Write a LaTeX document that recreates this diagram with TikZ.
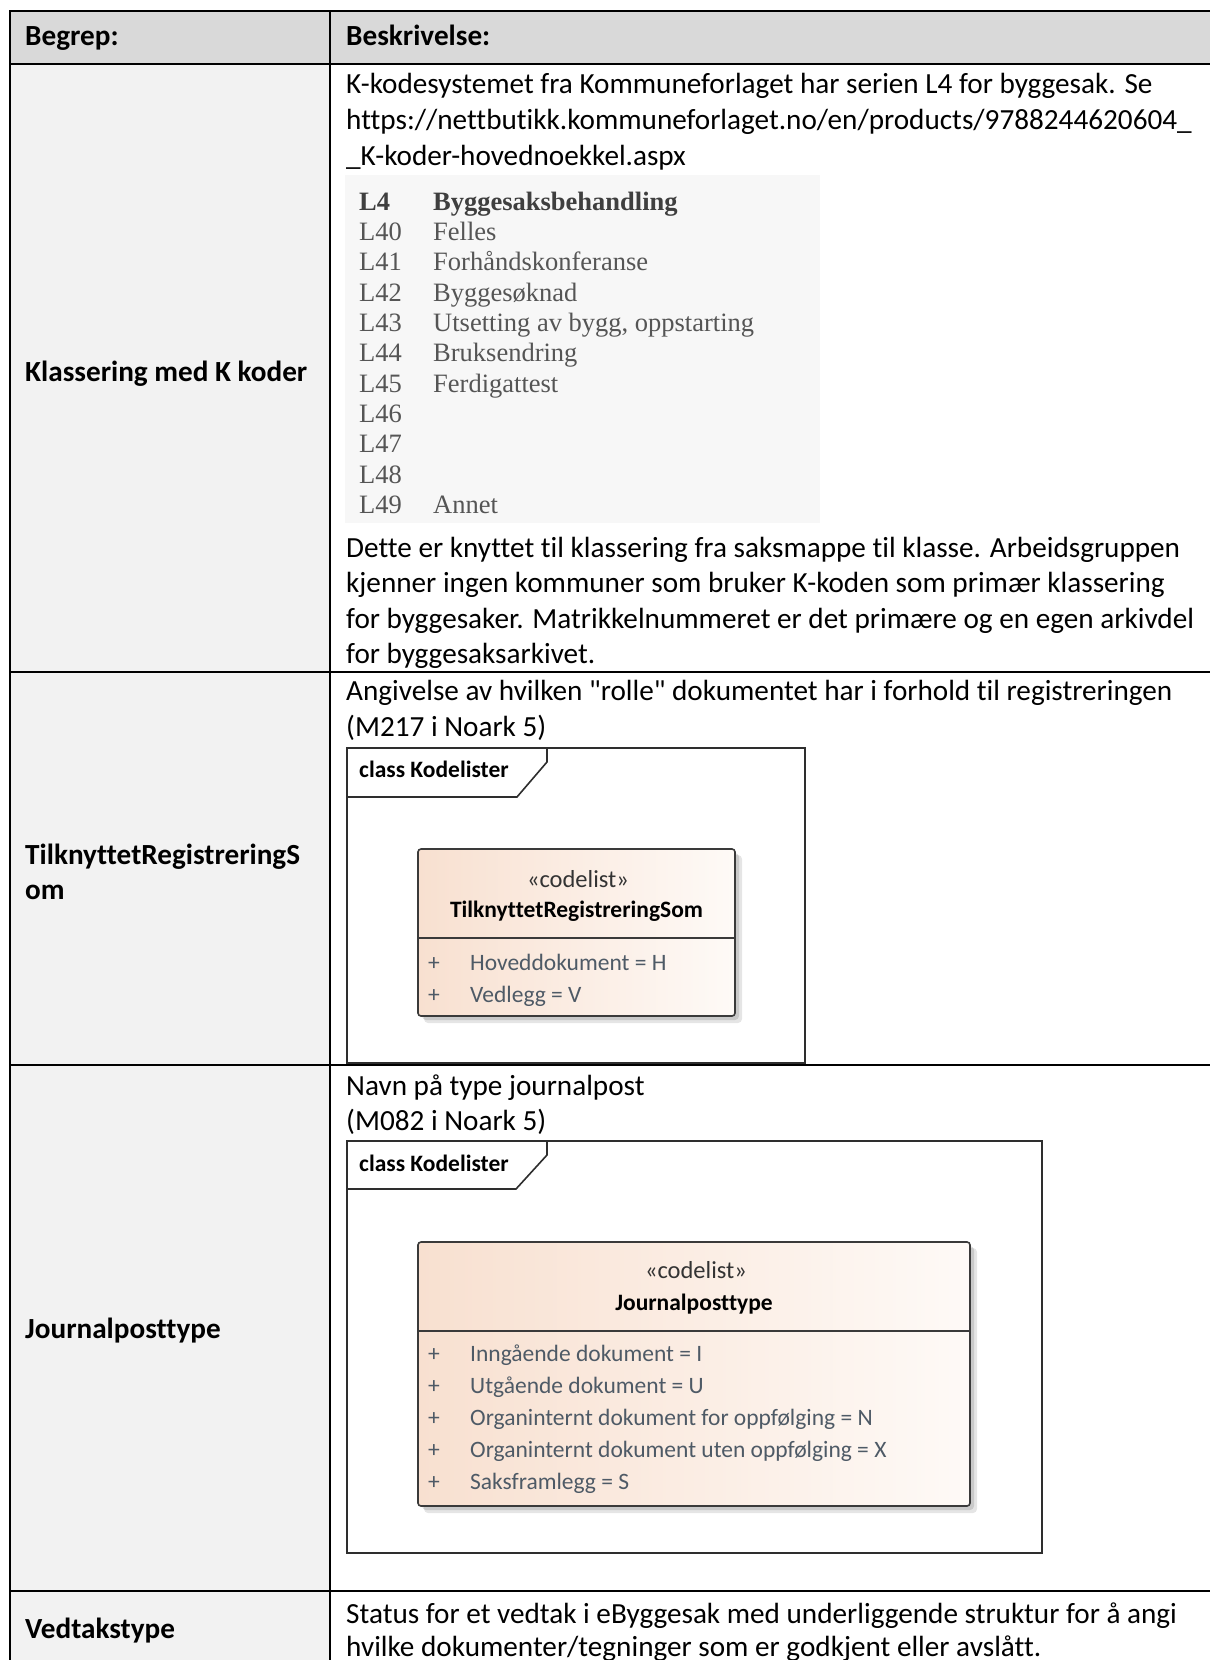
\documentclass[tikz,border=0pt]{standalone}
\usepackage{fontspec}
\setmainfont{Carlito}[Ligatures={TeXOff,CommonOff}]
\newfontfamily\kserif{Liberation Serif}[Ligatures={TeXOff,CommonOff}]
\definecolor{hdr}{HTML}{D9D9D9}
\definecolor{lcol}{HTML}{F2F2F2}
\definecolor{imgbg}{HTML}{F7F7F7}
\definecolor{kgray}{HTML}{555555}
\definecolor{kdark}{HTML}{3F3F3F}
\definecolor{attr}{HTML}{4E5A66}
\definecolor{cbL}{RGB}{248,224,208}
\definecolor{cbR}{RGB}{254,250,247}
\definecolor{frm}{HTML}{2E2E2E}
\definecolor{boxline}{HTML}{3A3A3A}
\begin{document}
\begin{tikzpicture}[x=1pt,y=-1pt,
  tbl/.style={line width=2pt, black},
  txt/.style={anchor=base west, inner sep=0pt, font=\fontsize{29.2}{35.5}\selectfont},
  btxt/.style={anchor=base west, inner sep=0pt, font=\fontsize{29.2}{35.5}\selectfont\bfseries},
  kcode/.style={anchor=base west, inner sep=0pt, text=kgray, font=\kserif\fontsize{26.5}{30}\selectfont},
  kbold/.style={anchor=base west, inner sep=0pt, text=kdark, font=\kserif\fontsize{26.5}{30}\selectfont\bfseries},
  dtxt/.style={anchor=base west, inner sep=0pt, font=\fontsize{23.5}{28}\selectfont},
  dbold/.style={anchor=base west, inner sep=0pt, font=\fontsize{23.5}{28}\selectfont\bfseries},
  stereo/.style={anchor=base, inner sep=0pt, text=black!80, font=\fontsize{24.5}{28}\selectfont},
  cname/.style={anchor=base, inner sep=0pt, font=\fontsize{23.5}{28}\selectfont\bfseries},
  plus/.style={anchor=base, inner sep=0pt, text=attr, font=\fontsize{23.5}{28}\selectfont},
  attrib/.style={anchor=base west, inner sep=0pt, text=attr, font=\fontsize{23.5}{28}\selectfont},
  frame/.style={draw=frm, line width=1.6pt},
  cbox/.style={draw=boxline, line width=1.6pt, rounded corners=3pt},
  shad/.style={fill=black, rounded corners=4pt}
]
\useasboundingbox (0,0) rectangle (1210,1660);

% ---------- table backgrounds ----------
\fill[hdr] (9.5,11) rectangle (1210,64);
\fill[lcol] (9.5,64) rectangle (330,1660);

% ---------- table lines ----------
\draw[tbl] (1210,11) -- (9.5,11) -- (9.5,1660);
\draw[tbl] (330,11) -- (330,1660);
\draw[tbl] (9.5,64) -- (1210,64);
\draw[tbl] (9.5,672) -- (1210,672);
\draw[tbl] (9.5,1065) -- (1210,1065);
\draw[tbl] (9.5,1591) -- (1210,1591);

% ---------- header ----------
\node[btxt] (hA) at (25,45) {Begrep:};
\node[btxt] (hB) at (346,45) {Beskrivelse:};

% ---------- row 1 ----------
\node[btxt] (l1) at (25,381) {Klassering med K koder};
\node[txt] (r1a) at (346,93.5) {K-kodesystemet fra Kommuneforlaget har serien L4 for byggesak. Se};
\node[txt] (r1b) at (346,129.5) {https://nettbutikk.kommuneforlaget.no/en/products/9788244620604\_};
\node[txt] (r1c) at (346,165) {\_K-koder-hovednoekkel.aspx};

\fill[imgbg] (345,175) rectangle (820,523);
\node[kbold] (c0) at (359,210) {L4};
\node[kbold] (n0) at (433,210) {Byggesaksbehandling};
\node[kcode] (c1) at (359,240.3) {L40};
\node[kcode] (n1) at (433,240.3) {Felles};
\node[kcode] (c2) at (359,270.7) {L41};
\node[kcode] (n2) at (433,270.7) {Forhåndskonferanse};
\node[kcode] (c3) at (359,301) {L42};
\node[kcode] (n3) at (433,301) {Byggesøknad};
\node[kcode] (c4) at (359,331.3) {L43};
\node[kcode] (n4) at (433,331.3) {Utsetting av bygg, oppstarting};
\node[kcode] (c5) at (359,361.7) {L44};
\node[kcode] (n5) at (433,361.7) {Bruksendring};
\node[kcode] (c6) at (359,392) {L45};
\node[kcode] (n6) at (433,392) {Ferdigattest};
\node[kcode] (c7) at (359,422.3) {L46};
\node[kcode] (c8) at (359,452.7) {L47};
\node[kcode] (c9) at (359,483) {L48};
\node[kcode] (c10) at (359,513.3) {L49};
\node[kcode] (n10) at (433,513.3) {Annet};

\node[txt] (r1d) at (346,557) {Dette er knyttet til klassering fra saksmappe til klasse. Arbeidsgruppen};
\node[txt] (r1e) at (346,592.5) {kjenner ingen kommuner som bruker K-koden som primær klassering};
\node[txt] (r1f) at (346,628) {for byggesaker. Matrikkelnummeret er det primære og en egen arkivdel};
\node[txt] (r1g) at (346,663.5) {for byggesaksarkivet.};

% ---------- row 2 ----------
\node[btxt] (l2a) at (25,864) {TilknyttetRegistreringS};
\node[btxt] (l2b) at (25,899.5) {om};
\node[txt] (r2a) at (346,700) {Angivelse av hvilken "rolle" dokumentet har i forhold til registreringen};
\node[txt] (r2b) at (346,736) {(M217 i Noark 5)};

\fill[white] (347,748) rectangle (805,1063);
\draw[frame] (347,748) rectangle (805,1063);
\draw[frame] (347,797) -- (517,797) -- (547,762) -- (547,748);
\node[dbold] (f1t) at (359,777) {class Kodelister};

\fill[shad, opacity=0.10] (424,855) rectangle (742,1023);
\fill[shad, opacity=0.12] (422,853) rectangle (739,1020);
\shade[left color=cbL, right color=cbR, rounded corners=3pt] (418,849) rectangle (735,1016);
\draw[cbox] (418,849) rectangle (735,1016);
\draw[boxline, line width=1.6pt] (418,938) -- (735,938);
\node[stereo] (s1) at (578,887) {«codelist»};
\node[cname] (k1) at (576.5,917) {TilknyttetRegistreringSom};
\node[plus] (p1a) at (434,970) {+};
\node[attrib] (a1a) at (470,970) {Hoveddokument = H};
\node[plus] (p1b) at (434,1002) {+};
\node[attrib] (a1b) at (470,1002) {Vedlegg = V};

% ---------- row 3 ----------
\node[btxt] (l3) at (25,1338) {Journalposttype};
\node[txt] (r3a) at (346,1095) {Navn på type journalpost};
\node[txt] (r3b) at (346,1130) {(M082 i Noark 5)};

\fill[white] (347,1141) rectangle (1042,1553);
\draw[frame] (347,1141) rectangle (1042,1553);
\draw[frame] (347,1189) -- (516,1189) -- (547,1155) -- (547,1141);
\node[dbold] (f2t) at (359,1171) {class Kodelister};

\fill[shad, opacity=0.10] (424,1248) rectangle (977,1513);
\fill[shad, opacity=0.12] (422,1246) rectangle (974,1510);
\shade[left color=cbL, right color=cbR, rounded corners=3pt] (418,1242) rectangle (970,1506);
\draw[cbox] (418,1242) rectangle (970,1506);
\draw[boxline, line width=1.6pt] (418,1331) -- (970,1331);
\node[stereo] (s2) at (696,1278) {«codelist»};
\node[cname] (k2) at (694,1310) {Journalposttype};
\node[plus] (p2a) at (434,1361) {+};
\node[attrib] (a2a) at (470,1361) {Inngående dokument = I};
\node[plus] (p2b) at (434,1393) {+};
\node[attrib] (a2b) at (470,1393) {Utgående dokument = U};
\node[plus] (p2c) at (434,1425) {+};
\node[attrib] (a2c) at (470,1425) {Organinternt dokument for oppfølging = N};
\node[plus] (p2d) at (434,1457) {+};
\node[attrib] (a2d) at (470,1457) {Organinternt dokument uten oppfølging = X};
\node[plus] (p2e) at (434,1489) {+};
\node[attrib] (a2e) at (470,1489) {Saksframlegg = S};

% ---------- row 4 ----------
\node[btxt] (l4) at (25,1638) {Vedtakstype};
\node[txt] (r4a) at (346,1623) {Status for et vedtak i eByggesak med underliggende struktur for å angi};
\node[txt] (r4b) at (346,1656.5) {hvilke dokumenter/tegninger som er godkjent eller avslått.};
\end{tikzpicture}
\end{document}
